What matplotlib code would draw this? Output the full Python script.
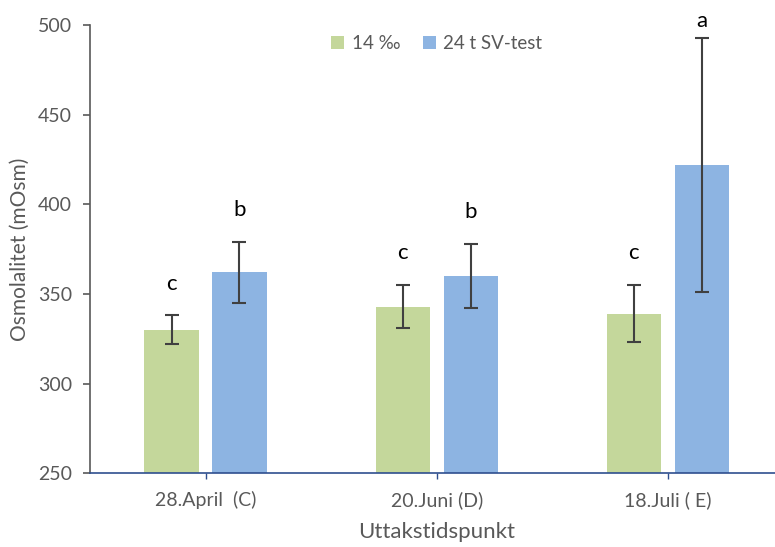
import matplotlib
matplotlib.use("Agg")
import matplotlib.pyplot as plt
import numpy as np

plt.rcParams['font.family'] = ['Lato', 'DejaVu Sans']

categories = ["28.April  (C)", "20.Juni (D)", "18.Juli ( E)"]
series_names = ["14 \u2030", "24 t SV-test"]
salt14 = [330, 343, 339]
salt14_err = [8, 12, 16]
sv_test = [362, 360, 422]
sv_test_err = [17, 18, 71]
salt14_letters = ["c", "c", "c"]
sv_test_letters = ["b", "b", "a"]

green = "#C4D79B"
blue = "#8DB4E2"
gray_text = "#595959"

fig = plt.figure(figsize=(7.75, 5.47), dpi=100)
ax = fig.add_axes([0.116, 0.135, 0.895, 0.819])

x = np.arange(len(categories))
width = 0.235
offset = 0.147

err_kw = dict(ecolor="#404040", elinewidth=1.5, capsize=5, capthick=1.5)
ax.bar(x - offset, salt14, width, color=green, label=series_names[0],
       yerr=salt14_err, error_kw=err_kw, zorder=2)
ax.bar(x + offset, sv_test, width, color=blue, label=series_names[1],
       yerr=sv_test_err, error_kw=err_kw, zorder=2)

# significance letters above the error bars, kept inside the figure
for i in range(len(categories)):
    y1 = min(salt14[i] + salt14_err[i] + 12, 497)
    y2 = min(sv_test[i] + sv_test_err[i] + 12, 497)
    ax.text(x[i] - offset, y1, salt14_letters[i],
            ha="center", va="bottom", fontsize=16, color="black")
    ax.text(x[i] + offset, y2, sv_test_letters[i],
            ha="center", va="bottom", fontsize=16, color="black")

ax.set_ylim(250, 500)
ax.set_xlim(-0.5, 2.5)
ax.set_yticks(np.arange(250, 501, 50))
ax.set_xticks(x)
ax.set_xticklabels(categories)

for s in ["top", "right"]:
    ax.spines[s].set_visible(False)
ax.spines["left"].set_color("#595959")
ax.spines["left"].set_linewidth(1.2)
ax.spines["bottom"].set_color("#2F4F8F")
ax.spines["bottom"].set_linewidth(1.2)

ax.tick_params(axis="y", colors="#595959", labelcolor=gray_text, labelsize=14,
               length=5, width=1.2, direction="out", pad=8)
ax.tick_params(axis="x", colors="#2F4F8F", labelcolor=gray_text, labelsize=14,
               length=4, width=1, direction="out", pad=9)

ax.set_ylabel("Osmolalitet (mOsm)", color=gray_text, fontsize=15, labelpad=6)
ax.set_xlabel("Uttakstidspunkt", color=gray_text, fontsize=16, labelpad=9)

leg = ax.legend(loc="upper center", bbox_to_anchor=(0.5, 1.015), ncol=2,
                frameon=False, fontsize=13.5, handlelength=0.7, handleheight=0.7,
                handletextpad=0.4, columnspacing=1.2, labelcolor=gray_text)

fig.savefig("out.png", dpi=100)
